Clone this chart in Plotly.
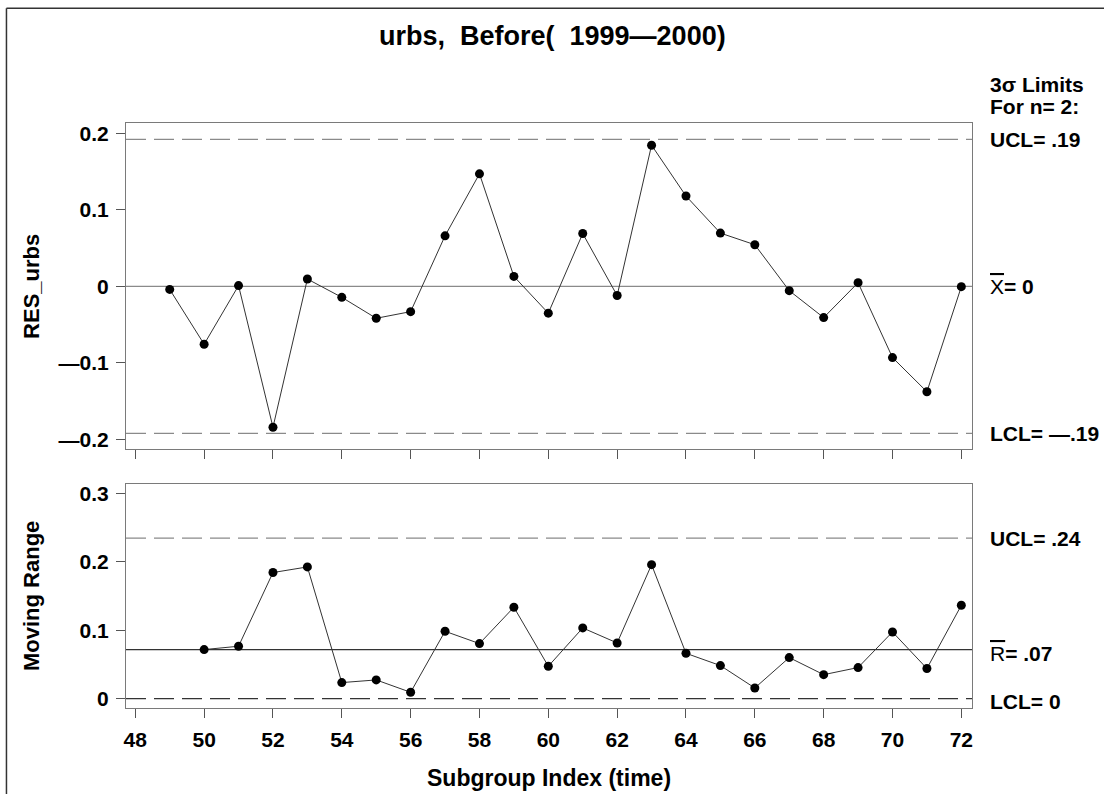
import plotly.graph_objects as go

# ---- data ----
subgroups = list(range(49, 73))
res_urbs = [-0.004, -0.0756, 0.001, -0.184, 0.0096, -0.0143, -0.0417, -0.033,
            0.066, 0.147, 0.013, -0.035, 0.069, -0.012, 0.1844, 0.118,
            0.0696, 0.0544, -0.0056, -0.0408, 0.0048, -0.093, -0.1377, -0.0004]
mr_subgroups = list(range(50, 73))
moving_range = [0.0717, 0.0766, 0.1845, 0.1927, 0.0234, 0.0273, 0.0092, 0.0985,
                0.0805, 0.1337, 0.0473, 0.1034, 0.0814, 0.196, 0.0663, 0.0483,
                0.0155, 0.060, 0.035, 0.0454, 0.0975, 0.044, 0.1366]

x_ucl, x_center, x_lcl = 0.192, 0.0, -0.192
r_ucl, r_center, r_lcl = 0.235, 0.0717, 0.0

x_tickvals = list(range(48, 73, 2))
top_tickvals = [-0.2, -0.1, 0.0, 0.1, 0.2]
top_ticktext = ["—0.2", "—0.1", "0", "0.1", "0.2"]
bot_tickvals = [0.0, 0.1, 0.2, 0.3]
bot_ticktext = ["0", "0.1", "0.2", "0.3"]

FONT = "Liberation Sans, Arial, sans-serif"
BOX = "#7a7a7a"

fig = go.Figure()

fig.add_trace(go.Scatter(x=subgroups, y=res_urbs, mode="lines+markers",
                         line=dict(color="#333333", width=1),
                         marker=dict(color="black", size=9),
                         xaxis="x", yaxis="y", showlegend=False))
fig.add_trace(go.Scatter(x=mr_subgroups, y=moving_range, mode="lines+markers",
                         line=dict(color="#333333", width=1),
                         marker=dict(color="black", size=9),
                         xaxis="x2", yaxis="y2", showlegend=False))

shapes = []
def hline(y, yref, xref, color, dash):
    shapes.append(dict(type="line", xref=xref, yref=yref, x0=0, x1=1, y0=y, y1=y,
                       line=dict(color=color, width=1.2, dash=dash), layer="below"))

hline(x_ucl, "y", "x domain", "#8a8a8a", "20px,8px")
hline(x_lcl, "y", "x domain", "#8a8a8a", "20px,8px")
hline(x_center, "y", "x domain", "#8a8a8a", "solid")
hline(r_ucl, "y2", "x2 domain", "#8a8a8a", "20px,8px")
hline(r_lcl, "y2", "x2 domain", "#333333", "20px,8px")
hline(r_center, "y2", "x2 domain", "#333333", "solid")

# outer frame (top and left edges)
shapes.append(dict(type="line", xref="paper", yref="paper", x0=-0.1413, x1=1.2,
                   y0=1.196, y1=1.196, line=dict(color="#333333", width=1.5)))
shapes.append(dict(type="line", xref="paper", yref="paper", x0=-0.1413, x1=-0.1413,
                   y0=1.196, y1=-0.2, line=dict(color="#333333", width=1.5)))

axis_common = dict(showline=True, linecolor=BOX, linewidth=1, mirror=True,
                   showgrid=False, zeroline=False, ticks="outside", ticklen=9,
                   tickcolor="#555555", tickwidth=1,
                   tickfont=dict(family=FONT, size=21, color="black", weight="bold"))

fig.update_layout(
    width=1104, height=794,
    margin=dict(l=126, r=132, t=122.7, b=86.3),
    paper_bgcolor="white", plot_bgcolor="white",
    xaxis=dict(domain=[0, 1], anchor="y", range=[47.73, 72.31],
               tickvals=x_tickvals, showticklabels=False, **axis_common),
    yaxis=dict(domain=[0.442, 1], anchor="x", range=[-0.213, 0.2134],
               tickvals=top_tickvals, ticktext=top_ticktext,
               ticklabelstandoff=3, **axis_common),
    xaxis2=dict(domain=[0, 1], anchor="y2", range=[47.73, 72.31],
                tickvals=x_tickvals, ticktext=[str(v) for v in x_tickvals],
                ticklabelstandoff=4, **axis_common),
    yaxis2=dict(domain=[0, 0.3828], anchor="x2", range=[-0.0138, 0.314],
                tickvals=bot_tickvals, ticktext=bot_ticktext,
                ticklabelstandoff=3, **axis_common),
    shapes=shapes,
)

ann = []
def label(text, x, y, xref="paper", yref="paper", size=21, xanchor="left",
          yanchor="middle", angle=0):
    ann.append(dict(text=text, x=x, y=y, xref=xref, yref=yref, showarrow=False,
                    xanchor=xanchor, yanchor=yanchor, textangle=angle,
                    font=dict(family=FONT, size=size, color="black")))

label("<b>urbs,\u00a0 Before(\u00a0 1999—2000)</b>", 0.5047, 1.1485, size=27, xanchor="center")
label("<b>RES_urbs</b>", -0.111, 0.72, xanchor="center", angle=-90, size=22)
label("<b>Moving Range</b>", -0.111, 0.1916, xanchor="center", angle=-90, size=22)
label("<b>Subgroup Index (time)</b>", 0.5, -0.1195, xanchor="center", size=23)

rx = 1.019
label("<b>3σ Limits</b>", rx, 1.066, size=21)
label("<b>For n= 2:</b>", rx, 1.0286, size=21)
label("<b>UCL= .19</b>", rx, x_ucl, yref="y", size=21)
label("<span style='text-decoration:overline'>X</span><b>= 0</b>", rx, x_center, yref="y", size=21)
label("<b>LCL= —.19</b>", rx, x_lcl, yref="y", size=21)
label("<b>UCL= .24</b>", rx, r_ucl, yref="y2", size=21)
label("<span style='text-decoration:overline'>R</span><b>= .07</b>", rx, r_center - 0.006, yref="y2", size=21)
label("<b>LCL= 0</b>", rx, r_lcl - 0.004, yref="y2", size=21)

fig.update_layout(annotations=ann)
fig.write_html("out.html",
               config={"displayModeBar": False},
               post_script="document.body.style.margin='0';document.body.style.overflow='hidden';")
